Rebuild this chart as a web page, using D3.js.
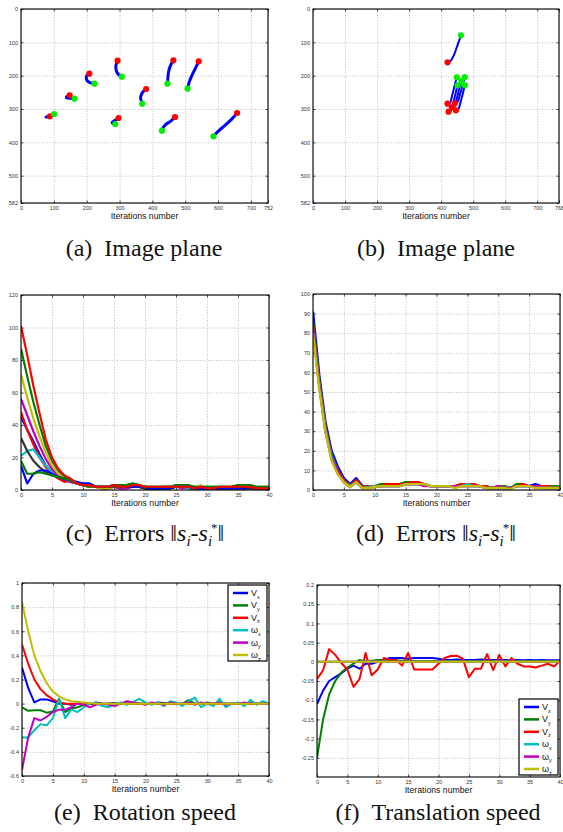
<!DOCTYPE html>
<html>
<head>
<meta charset="utf-8">
<title>Servoing results</title>
<script src="https://d3js.org/d3.v7.min.js"></script>
<style>
body { margin: 0; background: #fff; }
text { font-family: "Liberation Sans", Arial, sans-serif; }
.cap { font-family: "Liberation Serif", "Times New Roman", serif; font-size: 24px; fill: #111; }
</style>
</head>
<body>
<script>
// ---- data ----
var iters = d3.range(0, 41);

// image plane (a): feature trajectories, start (red) -> end (green), pixel coords
var trajA = [
  [[294,155],[289,170],[290,185],[297,197],[307,203]],
  [[464,154],[455,170],[449,190],[447,210],[446,224]],
  [[541,157],[530,180],[520,200],[512,220],[507,239]],
  [[208,194],[200,200],[199,210],[206,219],[224,224]],
  [[148,259],[140,262],[138,266],[150,268],[163,269]],
  [[381,240],[370,250],[364,265],[366,275],[369,284]],
  [[88,322],[80,324],[76,324],[90,320],[101,315]],
  [[297,327],[287,334],[277,341],[282,345],[287,345]],
  [[469,324],[455,337],[440,347],[432,357],[429,365]],
  [[658,312],[640,332],[620,350],[600,367],[586,382]]
];
// image plane (b)
var trajB = [
  [[420,160],[430,155],[440,138],[450,112],[462,79]],
  [[420,284],[427,282],[435,257],[442,230],[449,205]],
  [[423,308],[430,306],[438,281],[445,254],[451,229]],
  [[434,295],[441,293],[449,268],[456,241],[463,216]],
  [[443,283],[450,281],[459,256],[467,229],[474,204]],
  [[446,304],[453,302],[461,278],[468,253],[474,229]]
];
var xTicksA = [0,100,200,300,400,500,600,700,752];
var xTicksB = [0,100,200,300,400,500,600,700,768];
var yTicksImg = [0,100,200,300,400,500,582];

// errors (c)
var errC = [
  [45,37,30,22,15,11,8,6,5,4,4,4,2,2,2,3,3,2,2,2,1,1,1,1,1,2,2,2,1,1,1,1,1,1,1,1,2,1,1,1,1],
  [87,70,54,40,27,18,12,8,6,4,3,2,2,2,2,3,3,3,4,3,2,2,2,2,2,3,3,3,2,2,2,2,2,2,2,3,3,3,2,2,2],
  [48,37,28,20,14,10,7,5,6,4,3,2,2,1,1,2,1,2,2,2,1,1,1,2,2,2,2,2,1,2,1,1,1,1,2,2,1,2,1,1,1],
  [21,24,25,20,15,11,8,7,6,4,3,3,2,2,2,2,1,1,2,2,1,1,1,1,2,2,2,1,0,1,1,1,2,2,1,2,2,2,1,1,1],
  [56,46,36,27,19,13,9,7,5,4,3,2,2,1,1,2,1,1,2,2,1,1,1,1,1,2,1,2,1,1,1,0.5,1,1,1,1,1,1,1,1,1],
  [71,57,44,33,23,15,10,7,6,4,3,2,2,1,1,2,2,2,2,2,2,1,1,1,1,2,2,2,1,3,1,1,1,1,1,2,2,1,1,1,1],
  [32,24,18,14,11,9,8,7,6,4,3,3,2,2,2,2,2,2,2,2,1,1,1,1,1,2,2,2,1,1,1,1,1,1,1,1,1,1,1,1,1],
  [15,4,10,12,12,10,8,7,6,5,4,4,2,2,2,3,3,2,2,2,2,0.5,0.5,1,1,2,2,2,1,1,0.5,1,1,1,1,1,1,2,1,1,1],
  [18,10,10,11,10,9,8,7,6,4,3,2,2,2,2,3,3,3,4,3,2,2,2,2,2,2,2,2,2,2,2,2,2,2,2,3,2,2,2,2,2],
  [101,83,64,47,31,20,13,9,7,4,3,3,2,2,2,3,2,2,3,3,2,2,2,2,2,2,2,2,1,2,1,1,2,2,2,2,2,2,1,1,1]
];
var errCColors = ['#0000ff','#008000','#ff0000','#00bfbf','#bf00bf','#bfbf00','#333333','#0000ff','#008000','#ff0000'];

// errors (d)
var errD = [
  [91,59,35,20,12,6,3,6,2,2,2,2,2,2,2,3,3,3,3,2,2,2,2,2,2,2,2,2,2,1,1,1,1,2,2,2,3,2,2,2,1],
  [86,56,33,18,10,5,2.5,5,1.5,2,2,3,3,3,3,4,4,4,3,2,2,2,2,2,3,3,3,2,2,1,2,2,1,3,3,2,2,2,2,2,2],
  [84,55,32,17,10,5,2,5,1.5,2,2,2,3,3,3,3,4,4,3,2,2,2,2,2,3,3,3,2,2,1,2,1,1,2,3,2,2,2,2,1,1],
  [82,54,31,17,9,4,2,4,1,1.5,2,2,2,2,2,3,3,3,3,2,2,2,2,2,2,3,2,2,1,1,1,1,1,2,2,2,2,1,1,1,1],
  [82,53,30,16,9,4,1.5,4,1,1,1.5,2,2,2,2,3,3,3,2,2,2,2,2,2,2,2,2,2,1,1,2,1,1,2,2,2,2,1,1,1,1],
  [80,52,30,15,8,4,1.5,4,1,1,1.5,2,2,2,2,3,3,3,3,2,2,2,2,1,2,2,2,2,1,1,1,1,0.5,2,2,2,1,1,1,1,1]
];
var errDColors = ['#0000ff','#008000','#ff0000','#00bfbf','#bf00bf','#bfbf00'];

// velocities (e)
var velNames = ['V','V','V','\u03c9','\u03c9','\u03c9'];
var velSubs = ['x','y','z','x','y','z'];
var velColors = ['#0000ff','#008000','#ff0000','#00bfbf','#bf00bf','#bfbf00'];
var velE = [
  [0.30,0.13,0.01,0.035,0.035,0.02,0,0,-0.01,0,0.005,0,0.01,0,0,0.005,0,0.01,0,0,0,0,0.01,0.005,0,-0.005,0,0.01,0,0,0,0,0.005,0,0,0,0,0.005,0,0,0],
  [-0.03,-0.06,-0.055,-0.055,-0.075,-0.065,0.04,-0.07,-0.04,-0.03,-0.01,0,0,-0.01,0,0,0,0.01,0.01,0,0,0,0,0,0.01,0,0,0.03,0,0,0.01,0,0.01,0,0,0,0,0,0,0,0],
  [0.49,0.33,0.2,0.12,0.07,0.035,0.01,0,0,0,0,0,0,0,0,0,0,0,0,0,0,0,0,0,0,0,0,0,0,0,0,0,0,0,0,0,0,0,0,0,0],
  [-0.28,-0.28,-0.22,-0.17,-0.18,-0.12,0.04,-0.12,-0.05,-0.07,-0.03,0,0.01,-0.02,-0.03,0,0.01,-0.01,0.015,0.04,0.01,-0.01,0.01,-0.02,0.02,0.01,-0.02,0.02,0.05,-0.03,0,-0.02,0.04,-0.03,0,0.01,-0.02,0.03,-0.01,0.02,0],
  [-0.55,-0.28,-0.12,-0.14,-0.11,-0.07,-0.05,-0.05,-0.03,0,-0.01,-0.03,-0.01,0,-0.01,-0.02,0,0.02,0.01,0,-0.01,0.01,0,-0.01,0.01,0,0,0.01,-0.01,0.01,0,0,0.01,-0.01,0,0,0.01,0,0,0,0],
  [0.84,0.6,0.4,0.27,0.17,0.1,0.06,0.035,0.02,0.015,0.01,0.005,0,0,0,0,0,0,0,0,0,0,0,0,0,0,0,0,0,0,0,0,0,0,0,0,0,0,0,0,0]
];
// velocities (f)
var velF = [
  [-0.11,-0.075,-0.05,-0.04,-0.03,-0.018,-0.01,-0.018,-0.005,-0.005,0,0.005,0.01,0.01,0.01,0.008,0.01,0.01,0.01,0.01,0.008,0.005,0.005,0.006,0.005,0.005,0.005,0.006,0.005,0.005,0.005,0.005,0.004,0.005,0.004,0.005,0.004,0.005,0.004,0.004,0.004],
  [-0.25,-0.15,-0.085,-0.05,-0.028,-0.015,-0.005,0.005,0,0.003,0.005,0.005,0.004,0.004,0.003,0.003,0.002,0.002,0.002,0.002,0.002,0.002,0.002,0.002,0.002,0.002,0.002,0.002,0.002,0.002,0.002,0.002,0.002,0.002,0.002,0.002,0.002,0.002,0.002,0.002,0.002],
  [-0.045,-0.022,0.033,0.018,-0.003,-0.02,-0.065,-0.045,0.023,-0.035,-0.02,0.01,0.005,0.005,-0.01,0.023,-0.02,-0.02,-0.02,-0.02,-0.005,0.01,0.015,0.016,0.008,-0.04,-0.018,-0.018,0.02,-0.022,0.018,-0.012,0.01,-0.005,-0.012,-0.012,-0.015,-0.01,-0.005,-0.012,0.002],
  [0,0,0,0,0,0,0,0,0,0,0,0,0,0,0,0,0,0,0,0,0,0,0,0,0,0,0,0,0,0,0,0,0,0,0,0,0,0,0,0,0],
  [0,0,0,0,0,0,0,0,0,0,0,0,0,0,0,0,0,0,0,0,0,0,0,0,0,0,0,0,0,0,0,0,0,0,0,0,0,0,0,0,0],
  [0,0,0,0,0,0,0,0,0,0,0,0,0,0,0,0,0,0,0,0,0,0,0,0,0,0,0,0,0,0,0,0,0,0,0,0,0,0,0,0,0]
];

var xTicksIt = [0,5,10,15,20,25,30,35,40];
var yTicksC = [0,20,40,60,80,100,120];
var yTicksD = [0,10,20,30,40,50,60,70,80,90,100];
var yTicksE = [-0.6,-0.4,-0.2,0,0.2,0.4,0.6,0.8,1];
var yLabelsE = ['-0.6','-0.4','-0.2','0','0.2','0.4','0.6','0.8','1'];
var yTicksF = [-0.25,-0.2,-0.15,-0.1,-0.05,0,0.05,0.1,0.15,0.2];
var yLabelsF = ['-0.25','-0.2','-0.15','-0.1','-0.05','0','0.05','0.1','0.15','0.2'];

var captions = ['(a)\u2002Image plane','(b)\u2002Image plane','(c)\u2002Errors ','(d)\u2002Errors ','(e)\u2002Rotation speed','(f)\u2002Translation speed'];

// ---- drawing ----
var svg = d3.select('body').append('svg').attr('width', 563).attr('height', 832);

function panel(o) {
  var g = svg.append('g');
  var x = d3.scaleLinear().domain(o.xDom).range([o.x0, o.x1]);
  var y = d3.scaleLinear().domain(o.yDom).range(o.flipY ? [o.y0, o.y1] : [o.y1, o.y0]);
  var h = o.y1 - o.y0, w = o.x1 - o.x0;

  var xa = g.append('g').attr('transform', 'translate(0,' + o.y1 + ')')
    .call(d3.axisBottom(x).tickValues(o.xTicks)
      .tickFormat(function(d, i) { return o.xLabels ? o.xLabels[i] : d; })
      .tickSizeInner(-h).tickSizeOuter(0).tickPadding(3));
  var ya = g.append('g').attr('transform', 'translate(' + o.x0 + ',0)')
    .call(d3.axisLeft(y).tickValues(o.yTicks)
      .tickFormat(function(d, i) { return o.yLabels ? o.yLabels[i] : d; })
      .tickSizeInner(-w).tickSizeOuter(0).tickPadding(3));
  [xa, ya].forEach(function(a) {
    a.select('.domain').remove();
    a.selectAll('line').attr('stroke', '#b0b0b0').attr('stroke-width', 0.8).attr('stroke-dasharray', '1,1.6');
    a.selectAll('text').attr('font-size', 5.5).attr('fill', '#333').attr('font-family', '"Liberation Sans", Arial, sans-serif');
  });
  // small inward tick marks
  var tk = g.append('g');
  tk.append('g').attr('transform', 'translate(0,' + o.y1 + ')').call(d3.axisBottom(x).tickValues(o.xTicks).tickFormat('').tickSizeInner(-2.5).tickSizeOuter(0));
  tk.append('g').attr('transform', 'translate(0,' + o.y0 + ')').call(d3.axisTop(x).tickValues(o.xTicks).tickFormat('').tickSizeInner(-2.5).tickSizeOuter(0));
  tk.append('g').attr('transform', 'translate(' + o.x0 + ',0)').call(d3.axisLeft(y).tickValues(o.yTicks).tickFormat('').tickSizeInner(-2.5).tickSizeOuter(0));
  tk.append('g').attr('transform', 'translate(' + o.x1 + ',0)').call(d3.axisRight(y).tickValues(o.yTicks).tickFormat('').tickSizeInner(-2.5).tickSizeOuter(0));
  tk.selectAll('.domain').remove();
  tk.selectAll('line').attr('stroke', '#000').attr('stroke-width', 0.7);

  var clipId = 'clip' + o.id;
  svg.append('clipPath').attr('id', clipId).append('rect')
    .attr('x', o.x0).attr('y', o.y0).attr('width', w).attr('height', h);
  var plot = g.append('g').attr('clip-path', 'url(#' + clipId + ')');

  if (o.series) {
    var line = d3.line().x(function(d, i) { return x(iters[i]); }).y(function(d) { return y(d); });
    plot.selectAll('path.s').data(o.series).enter().append('path').attr('class', 's')
      .attr('d', line).attr('fill', 'none')
      .attr('stroke', function(d, i) { return o.colors[i]; })
      .attr('stroke-width', o.lw).attr('stroke-linejoin', 'round');
  }
  if (o.traj) {
    var tline = d3.line().x(function(d) { return x(d[0]); }).y(function(d) { return y(d[1]); }).curve(d3.curveCatmullRom);
    plot.selectAll('path.t').data(o.traj).enter().append('path').attr('class', 't')
      .attr('d', tline).attr('fill', 'none').attr('stroke', '#0000ff').attr('stroke-width', o.lw).attr('stroke-linecap', 'round');
    plot.selectAll('circle.r').data(o.traj).enter().append('circle')
      .attr('cx', function(d) { return x(d[0][0]); }).attr('cy', function(d) { return y(d[0][1]); })
      .attr('r', 3.1).attr('fill', '#ff0000');
    plot.selectAll('circle.gr').data(o.traj).enter().append('circle')
      .attr('cx', function(d) { return x(d[d.length - 1][0]); }).attr('cy', function(d) { return y(d[d.length - 1][1]); })
      .attr('r', 3.1).attr('fill', '#00ee00');
  }

  g.append('rect').attr('x', o.x0).attr('y', o.y0).attr('width', w).attr('height', h)
    .attr('fill', 'none').attr('stroke', '#000').attr('stroke-width', 1.1);

  g.append('text').attr('x', (o.x0 + o.x1) / 2).attr('y', o.y1 + 16)
    .attr('text-anchor', 'middle').attr('font-size', 8.7).attr('fill', '#111').text('Iterations number');

  if (o.legend) {
    var L = o.legend;
    var lg = g.append('g');
    lg.append('rect').attr('x', L.x).attr('y', L.y).attr('width', 39).attr('height', 76)
      .attr('fill', '#fff').attr('stroke', '#000').attr('stroke-width', 1.2);
    var row = lg.selectAll('g.row').data(velNames).enter().append('g')
      .attr('transform', function(d, i) { return 'translate(' + L.x + ',' + (L.y + 8 + i * 12.4) + ')'; });
    row.append('line').attr('x1', 5).attr('x2', 20).attr('y1', 0).attr('y2', 0)
      .attr('stroke', function(d, i) { return velColors[i]; }).attr('stroke-width', 2.5);
    var t = row.append('text').attr('x', 23).attr('y', 3).attr('font-size', 9).attr('fill', '#111');
    t.append('tspan').text(function(d) { return d; });
    t.append('tspan').attr('font-size', 5.5).attr('dy', 2.5).text(function(d, i) { return velSubs[i]; });
  }
}

panel({id: 'a', x0: 21, x1: 268, y0: 9, y1: 203, xDom: [0, 752], yDom: [0, 582], flipY: true,
  xTicks: xTicksA, yTicks: yTicksImg, traj: trajA, lw: 3});
panel({id: 'b', x0: 313, x1: 559, y0: 9, y1: 203, xDom: [0, 768], yDom: [0, 582], flipY: true,
  xTicks: xTicksB, yTicks: yTicksImg, traj: trajB, lw: 2});
panel({id: 'c', x0: 21, x1: 269, y0: 295, y1: 490, xDom: [0, 40], yDom: [0, 120],
  xTicks: xTicksIt, yTicks: yTicksC, series: errC, colors: errCColors, lw: 2.2});
panel({id: 'd', x0: 313, x1: 560, y0: 294, y1: 490, xDom: [0, 40], yDom: [0, 100],
  xTicks: xTicksIt, yTicks: yTicksD, series: errD, colors: errDColors, lw: 2.4});
panel({id: 'e', x0: 22, x1: 269, y0: 583, y1: 776, xDom: [0, 40], yDom: [-0.6, 1],
  xTicks: xTicksIt, yTicks: yTicksE, yLabels: yLabelsE, series: velE, colors: velColors, lw: 2,
  legend: {x: 228, y: 585}});
panel({id: 'f', x0: 317, x1: 560, y0: 585, y1: 777, xDom: [0, 40], yDom: [-0.3, 0.2],
  xTicks: xTicksIt, yTicks: yTicksF, yLabels: yLabelsF, series: velF, colors: velColors, lw: 2,
  legend: {x: 519, y: 699}});

// captions
var capPos = [[144, 256], [436, 256], [145, 541], [436, 541], [145, 820], [438, 820]];
captions.forEach(function(c, i) {
  var t = svg.append('text').attr('class', 'cap')
    .attr('x', capPos[i][0]).attr('y', capPos[i][1]).attr('text-anchor', 'middle');
  t.append('tspan').text(c);
  if (i === 2 || i === 3) {
    // ||s_i - s_i*||
    t.append('tspan').text('\u2016');
    t.append('tspan').attr('font-style', 'italic').text('s');
    t.append('tspan').attr('font-style', 'italic').attr('font-size', 15).attr('dy', 5).text('i');
    t.append('tspan').attr('dy', -5).text('-');
    t.append('tspan').attr('font-style', 'italic').text('s');
    t.append('tspan').attr('font-style', 'italic').attr('font-size', 15).attr('dy', 5).text('i');
    t.append('tspan').attr('font-size', 13).attr('dx', -1).attr('dy', -14).text('*');
    t.append('tspan').attr('dy', 9).text('\u2016');
  }
});
</script>
</body>
</html>
